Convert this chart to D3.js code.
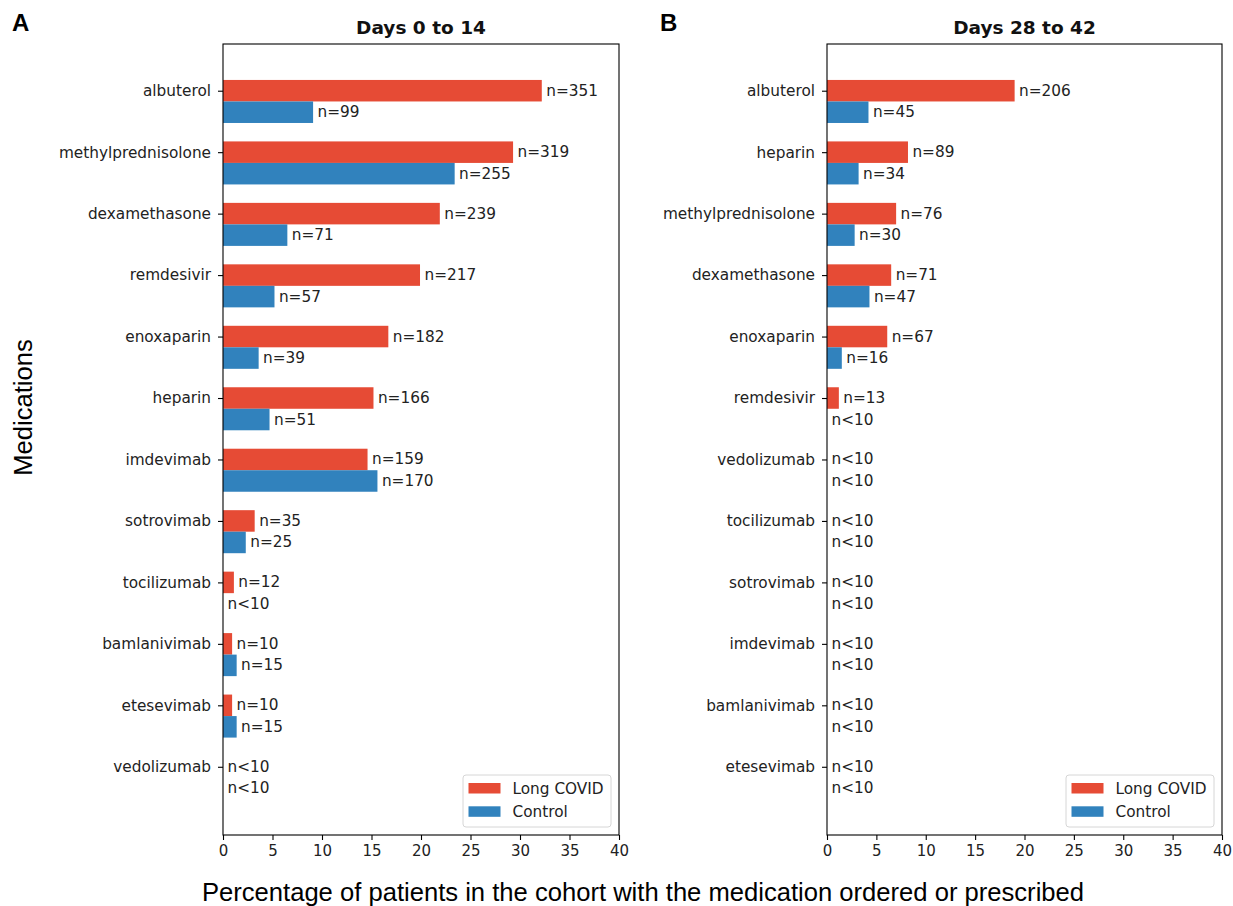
<!DOCTYPE html>
<html>
<head>
<meta charset="utf-8">
<script src="https://cdn.jsdelivr.net/npm/d3@7"></script>
<style>
  html, body { margin: 0; padding: 0; background: #fff; }
  svg { display: block; }
</style>
</head>
<body>
<svg id="chart" width="1233" height="906"></svg>
<script>
// Days 0 to 14
const medsA = ["albuterol", "methylprednisolone", "dexamethasone", "remdesivir", "enoxaparin",
  "heparin", "imdevimab", "sotrovimab", "tocilizumab", "bamlanivimab", "etesevimab", "vedolizumab"];
const longCovidA = [32.2, 29.3, 21.9, 19.9, 16.7, 15.2, 14.6, 3.2, 1.1, 0.92, 0.92, 0];
const controlA = [9.1, 23.4, 6.5, 5.2, 3.6, 4.7, 15.6, 2.3, 0, 1.38, 1.38, 0];
const longCovidLabelsA = ["n=351", "n=319", "n=239", "n=217", "n=182", "n=166", "n=159", "n=35", "n=12", "n=10", "n=10", "n<10"];
const controlLabelsA = ["n=99", "n=255", "n=71", "n=57", "n=39", "n=51", "n=170", "n=25", "n<10", "n=15", "n=15", "n<10"];

// Days 28 to 42
const medsB = ["albuterol", "heparin", "methylprednisolone", "dexamethasone", "enoxaparin", "remdesivir",
  "vedolizumab", "tocilizumab", "sotrovimab", "imdevimab", "bamlanivimab", "etesevimab"];
const longCovidB = [19.0, 8.2, 7.0, 6.5, 6.1, 1.2, 0, 0, 0, 0, 0, 0];
const controlB = [4.2, 3.2, 2.8, 4.3, 1.5, 0, 0, 0, 0, 0, 0, 0];
const longCovidLabelsB = ["n=206", "n=89", "n=76", "n=71", "n=67", "n=13", "n<10", "n<10", "n<10", "n<10", "n<10", "n<10"];
const controlLabelsB = ["n=45", "n=34", "n=30", "n=47", "n=16", "n<10", "n<10", "n<10", "n<10", "n<10", "n<10", "n<10"];

const xTicks = [0, 5, 10, 15, 20, 25, 30, 35, 40];
const seriesNames = ["Long COVID", "Control"];
const colors = ["#E64B35", "#3182BD"];

const svg = d3.select("#chart");
const tickFont = "'DejaVu Sans', sans-serif";
const sansFont = "'Liberation Sans', Arial, sans-serif";
const fs = 15.3;
const barH = 0.35;

function drawPanel(opts) {
  const { left, right, top, bottom, title, letter, meds, long, ctrl, longLbl, ctrlLbl } = opts;
  const g = svg.append("g");
  const x = d3.scaleLinear().domain([0, 40]).range([left, right]);
  const y = d3.scaleLinear().domain([-0.76, 12.11]).range([top, bottom]);

  const rows = meds.map((m, i) => ({ m, i, long: long[i], ctrl: ctrl[i], ll: longLbl[i], cl: ctrlLbl[i] }));

  // bars
  g.selectAll("rect.long").data(rows).join("rect")
    .attr("x", x(0))
    .attr("y", d => y(d.i - barH / 2))
    .attr("width", d => x(d.long) - x(0))
    .attr("height", y(barH) - y(0))
    .attr("fill", colors[0]);
  g.selectAll("rect.ctrl").data(rows).join("rect")
    .attr("x", x(0))
    .attr("y", d => y(d.i + barH / 2))
    .attr("width", d => x(d.ctrl) - x(0))
    .attr("height", y(barH) - y(0))
    .attr("fill", colors[1]);

  // count labels
  const lblStyle = sel => sel.attr("font-family", tickFont).attr("font-size", fs)
    .attr("fill", "#222").attr("dominant-baseline", "central");
  g.selectAll("text.ll").data(rows).join("text")
    .attr("x", d => x(d.long + 0.45)).attr("y", d => y(d.i))
    .text(d => d.ll).call(lblStyle);
  g.selectAll("text.cl").data(rows).join("text")
    .attr("x", d => x(d.ctrl + 0.45)).attr("y", d => y(d.i + barH))
    .text(d => d.cl).call(lblStyle);

  // frame
  g.append("rect").attr("x", left).attr("y", top)
    .attr("width", right - left).attr("height", bottom - top)
    .attr("fill", "none").attr("stroke", "#000").attr("stroke-width", 1.1);

  // x axis
  const xa = g.append("g").attr("transform", `translate(0,${bottom})`)
    .call(d3.axisBottom(x).tickValues(xTicks).tickFormat(d3.format("d")).tickSize(5).tickPadding(5));
  xa.select(".domain").remove();
  xa.selectAll("line").attr("stroke", "#000").attr("stroke-width", 1.1);
  xa.selectAll("text").attr("font-family", tickFont).attr("font-size", 15).attr("fill", "#222");

  // y axis
  const ya = g.append("g").attr("transform", `translate(${left},0)`)
    .call(d3.axisLeft(y).tickValues(d3.range(meds.length)).tickFormat(i => meds[i]).tickSize(5).tickPadding(7));
  ya.select(".domain").remove();
  ya.selectAll("line").attr("stroke", "#000").attr("stroke-width", 1.1);
  ya.selectAll("text").attr("font-family", tickFont).attr("font-size", fs).attr("fill", "#222");

  // title
  g.append("text").attr("x", (left + right) / 2).attr("y", 34)
    .attr("text-anchor", "middle").attr("font-family", tickFont)
    .attr("font-weight", "bold").attr("font-size", 18.5).attr("fill", "#111").text(title);

  // panel letter
  g.append("text").attr("x", letter[0]).attr("y", letter[1])
    .attr("font-family", sansFont).attr("font-weight", "bold")
    .attr("font-size", 24).attr("fill", "#000").text(letter[2]);

  // legend
  const lg = g.append("g").attr("transform", `translate(${right - 156},775)`);
  lg.append("rect").attr("x", 0).attr("y", 0).attr("width", 148).attr("height", 52)
    .attr("rx", 3).attr("fill", "#fff").attr("fill-opacity", 0.8)
    .attr("stroke", "#d6d6d6").attr("stroke-width", 1);
  seriesNames.forEach((name, k) => {
    lg.append("rect").attr("x", 5.5).attr("y", 8 + k * 23.3).attr("width", 32).attr("height", 10.5)
      .attr("fill", colors[k]);
    lg.append("text").attr("x", 49.5).attr("y", 13.5 + k * 23.3)
      .attr("dominant-baseline", "central").attr("font-family", tickFont)
      .attr("font-size", fs).attr("fill", "#222").text(name);
  });
}

drawPanel({ left: 223, right: 619, top: 44, bottom: 835, title: "Days 0 to 14", letter: [12, 31, "A"],
  meds: medsA, long: longCovidA, ctrl: controlA, longLbl: longCovidLabelsA, ctrlLbl: controlLabelsA });
drawPanel({ left: 827, right: 1222, top: 44, bottom: 835, title: "Days 28 to 42", letter: [660, 31, "B"],
  meds: medsB, long: longCovidB, ctrl: controlB, longLbl: longCovidLabelsB, ctrlLbl: controlLabelsB });

// shared axis titles
svg.append("text").attr("transform", "translate(32,407.5) rotate(-90)")
  .attr("text-anchor", "middle").attr("font-family", sansFont)
  .attr("font-size", 25.6).attr("fill", "#000").text("Medications");
svg.append("text").attr("x", 643).attr("y", 901)
  .attr("text-anchor", "middle").attr("font-family", sansFont)
  .attr("font-size", 25.6).attr("fill", "#000")
  .text("Percentage of patients in the cohort with the medication ordered or prescribed");
</script>
</body>
</html>
